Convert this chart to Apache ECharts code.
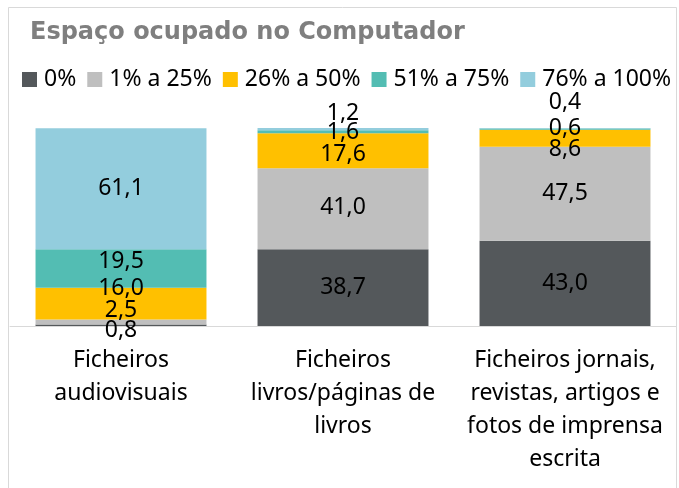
<!DOCTYPE html>
<html>
<head>
<meta charset="utf-8">
<script src="https://cdn.jsdelivr.net/npm/echarts@6/dist/echarts.min.js"></script>
<style>
  html, body { margin: 0; padding: 0; background: #fff; }
  #chart { width: 679px; height: 488px; }
</style>
</head>
<body>
<div id="chart"></div>
<script>
// categorias e valores (%)
const categories = [
    'Ficheiros\naudiovisuais',
    'Ficheiros\nlivros/páginas de\nlivros',
    'Ficheiros jornais,\nrevistas, artigos e\nfotos de imprensa\nescrita'
];
const seriesNames = ['0%', '1% a 25%', '26% a 50%', '51% a 75%', '76% a 100%'];
const zeroPct = [0.8, 38.7, 43.0];
const upTo25 = [2.5, 41.0, 47.5];
const upTo50 = [16.0, 17.6, 8.6];
const upTo75 = [19.5, 1.6, 0.6];
const upTo100 = [61.1, 1.2, 0.4];

const values = [zeroPct, upTo25, upTo50, upTo75, upTo100];
const colors = ['#54585b', '#bfbfbf', '#ffc000', '#53bdb3', '#93cddd'];

// ajuste vertical das etiquetas (como o Excel as afasta)
const labelNudge = [
    [5, 0, 0],
    [-11, -1, 0],
    [-15, 4, 11],
    [-7, 1, -1],
    [0, -16, -26]
];

const font = 'Noto Sans';

let option = {
    backgroundColor: '#fff',
    animation: false,
    title: {
        text: 'Espaço ocupado no Computador',
        left: 25,
        top: 16,
        textStyle: {
            fontFamily: 'DejaVu Sans',
            fontWeight: 'bold',
            fontSize: 24,
            color: '#7f7f7f'
        }
    },
    legend: {
        data: seriesNames,
        left: 22,
        top: 68,
        padding: 0,
        icon: 'rect',
        itemWidth: 15,
        itemHeight: 15,
        itemGap: 11,
        textStyle: {
            fontFamily: font,
            fontSize: 23,
            color: '#000',
            padding: [0, 0, 0, 2]
        }
    },
    grid: {
        left: 10,
        right: 3,
        top: 128,
        bottom: 162
    },
    xAxis: {
        type: 'category',
        data: categories,
        axisLine: { lineStyle: { color: '#d9d9d9', width: 1 } },
        axisTick: { show: false },
        axisLabel: {
            interval: 0,
            margin: 18,
            fontFamily: font,
            fontSize: 23,
            lineHeight: 33,
            color: '#000',
            align: 'center'
        }
    },
    yAxis: {
        type: 'value',
        min: 0,
        max: 100,
        show: false,
        splitLine: { show: false }
    },
    graphic: [{
        type: 'rect',
        silent: true,
        z: -1,
        shape: { x: 8.5, y: 7.5, width: 668, height: 500 },
        style: { fill: 'none', stroke: '#d9d9d9', lineWidth: 1 }
    }],
    series: seriesNames.map(function(name, i) {
        return {
            name: name,
            type: 'bar',
            stack: 'total',
            barCategoryGap: '23%',
            data: values[i],
            itemStyle: { color: colors[i] },
            label: {
                show: true,
                position: 'inside',
                fontFamily: font,
                fontSize: 23,
                color: '#000',
                formatter: function(p) {
                    return p.value.toFixed(1).replace('.', ',');
                }
            },
            labelLayout: function(p) {
                return { dy: labelNudge[p.seriesIndex][p.dataIndex] };
            }
        };
    })
};

let chart = echarts.init(document.getElementById('chart'));
chart.setOption(option);
</script>
</body>
</html>
